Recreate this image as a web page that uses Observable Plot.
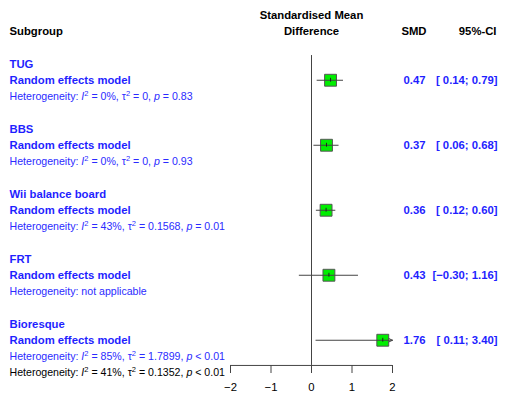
<!DOCTYPE html>
<html>
<head>
<meta charset="utf-8">
<script src="https://cdn.jsdelivr.net/npm/d3@7"></script>
<script src="https://cdn.jsdelivr.net/npm/@observablehq/plot@0.6"></script>
<style>
  html, body { margin: 0; padding: 0; background: #fff; }
  #chart { width: 510px; height: 395px; }
</style>
</head>
<body>
<div id="chart"></div>
<script>
// ---- data ----
const subgroups = ["TUG", "BBS", "Wii balance board", "FRT", "Bioresque"];
const smd = [0.47, 0.37, 0.36, 0.43, 1.76];
const lower = [0.14, 0.06, 0.12, -0.30, 0.11];
const upper = [0.79, 0.68, 0.60, 1.16, 3.40];
const heterogeneity = [
  "I² = 0%, τ² = 0, p = 0.83",
  "I² = 0%, τ² = 0, p = 0.93",
  "I² = 43%, τ² = 0.1568, p = 0.01",
  "not applicable",
  "I² = 85%, τ² = 1.7899, p < 0.01"
];
const overallHeterogeneity = "I² = 41%, τ² = 0.1352, p < 0.01";
const modelLabel = "Random effects model";
const xTicks = [-2, -1, 0, 1, 2];
const headers = { subgroup: "Subgroup", effect: ["Standardised Mean", "Difference"], smd: "SMD", ci: "95%-CI" };

// ---- layout helpers ----
const fmt = v => (v < 0 ? "−" : "") + Math.abs(v).toFixed(2);
const fmtCI = (l, u) => "[" + (l < 0 ? "" : " ") + fmt(l) + "; " + fmt(u) + "]";
const xMin = d3.min(xTicks), xMax = d3.max(xTicks);

const rows = subgroups.map((name, i) => ({
  name, smd: smd[i], lower: lower[i], upper: upper[i],
  het: "Heterogeneity: " + heterogeneity[i],
  k: 2 + 4 * i
}));
const boldLeft = [];
const hetLeft = [];
rows.forEach(r => {
  boldLeft.push({ k: r.k, text: r.name });
  boldLeft.push({ k: r.k + 1, text: modelLabel });
  hetLeft.push({ k: r.k + 2, text: r.het, fill: "#2b2bff" });
});
hetLeft.push({ k: 21, text: "Heterogeneity: " + overallHeterogeneity, fill: "#000" });

const axisK = 20.55;
const lineColor = "#444";
const blue = "#1f1fff";
const font = "'Liberation Sans', Arial, Helvetica, sans-serif";

const chart = Plot.plot({
  width: 510,
  height: 395,
  marginTop: 0,
  marginLeft: 9,
  marginRight: 13,
  marginBottom: 30,
  style: { fontFamily: font, background: "#fff", color: "#000" },
  x: { domain: [xMin, xMax], range: [230, 392], axis: null, label: null },
  y: { domain: [0, 21], range: [31, 31 + 16.25 * 21], axis: null, label: null },
  marks: [
    // left column text
    Plot.text(boldLeft, {
      y: "k", text: "text", frameAnchor: "left", textAnchor: "start",
      fill: blue, fontWeight: "bold", fontSize: 11.3
    }),
    Plot.text(hetLeft, {
      y: "k", text: "text", frameAnchor: "left", textAnchor: "start",
      fill: d => d.fill, fontWeight: "normal", fontSize: 10.6
    }),
    Plot.text([headers.subgroup], {
      y: () => 0, text: d => d, frameAnchor: "left", textAnchor: "start",
      fontWeight: "bold", fontSize: 11.3, fill: "#000"
    }),
    // headers
    Plot.text(headers.effect, {
      x: () => 0, y: (d, i) => i - 1, text: d => d, textAnchor: "middle",
      fontWeight: "bold", fontSize: 11.3, fill: "#000"
    }),
    Plot.text([headers.smd], {
      y: () => 0, text: d => d, frameAnchor: "right", textAnchor: "end", dx: -71,
      fontWeight: "bold", fontSize: 11.3, fill: "#000"
    }),
    Plot.text([headers.ci], {
      y: () => 0, text: d => d, frameAnchor: "right", textAnchor: "end", dx: -1,
      fontWeight: "bold", fontSize: 11.3, fill: "#000"
    }),
    // right columns
    Plot.text(rows, {
      y: d => d.k + 1, text: d => fmt(d.smd), frameAnchor: "right", textAnchor: "end", dx: -72,
      fontWeight: "bold", fontSize: 11.3, fill: blue
    }),
    Plot.text(rows, {
      y: d => d.k + 1, text: d => fmtCI(d.lower, d.upper), frameAnchor: "right", textAnchor: "end", dx: 0,
      fontWeight: "bold", fontSize: 11.3, fill: blue
    }),
    // reference line at 0
    Plot.ruleX([0], { y1: () => 1.48, y2: () => axisK, stroke: lineColor, strokeWidth: 1 }),
    // axis
    Plot.ruleY([axisK], { x1: () => xMin, x2: () => xMax, stroke: lineColor, strokeWidth: 1 }),
    Plot.axisX({
      ticks: xTicks, tickSize: 8, tickPadding: 9, fontSize: 11.3,
      stroke: lineColor, fill: "#000", label: null, tickFormat: d => (d < 0 ? "−" : "") + Math.abs(d)
    }),
    // squares
    Plot.dot(rows, {
      x: "smd", y: d => d.k + 1, symbol: "square", r: 6.7,
      fill: "#00ee00", stroke: "#555", strokeWidth: 1
    }),
    // CI lines (inside the axis range)
    Plot.ruleY(rows.filter(d => d.upper <= xMax && d.lower >= xMin), {
      x1: "lower", x2: "upper", y: d => d.k + 1, stroke: lineColor, strokeWidth: 1
    }),
    // CI lines clipped at the axis end, with arrow
    Plot.arrow(rows.filter(d => d.upper > xMax), {
      x1: "lower", x2: () => xMax, y1: d => d.k + 1, y2: d => d.k + 1,
      stroke: lineColor, strokeWidth: 1, headLength: 6, headAngle: 50
    }),
    // estimate tick inside square
    Plot.ruleX(rows, {
      x: "smd", y1: d => d.k + 1 - 0.12, y2: d => d.k + 1 + 0.12, stroke: "#222", strokeWidth: 1
    })
  ]
});

// rich text: italic I and p, superscript 2
const NS = "http://www.w3.org/2000/svg";
chart.querySelectorAll("text").forEach(t => {
  const s = t.textContent;
  if (!s.startsWith("Heterogeneity:")) return;
  const parts = s.split(/(I²|τ²|(?<![A-Za-z])p(?![A-Za-z]))/);
  t.textContent = "";
  let raise = 0;
  const add = (txt, opts = {}) => {
    if (!txt) return;
    const ts = document.createElementNS(NS, "tspan");
    ts.textContent = txt;
    if (opts.italic) ts.setAttribute("font-style", "italic");
    if (opts.size) ts.setAttribute("font-size", opts.size);
    const dy = (opts.dy || 0) - raise;
    if (dy) ts.setAttribute("dy", dy);
    raise = opts.dy || 0;
    t.appendChild(ts);
  };
  parts.forEach(p => {
    if (p === "I²") { add("I", { italic: true }); add("2", { size: "7.5px", dy: -4 }); }
    else if (p === "τ²") { add("τ"); add("2", { size: "7.5px", dy: -4 }); }
    else if (p === "p") { add("p", { italic: true }); }
    else add(p);
  });
});

document.getElementById("chart").appendChild(chart);
</script>
</body>
</html>
